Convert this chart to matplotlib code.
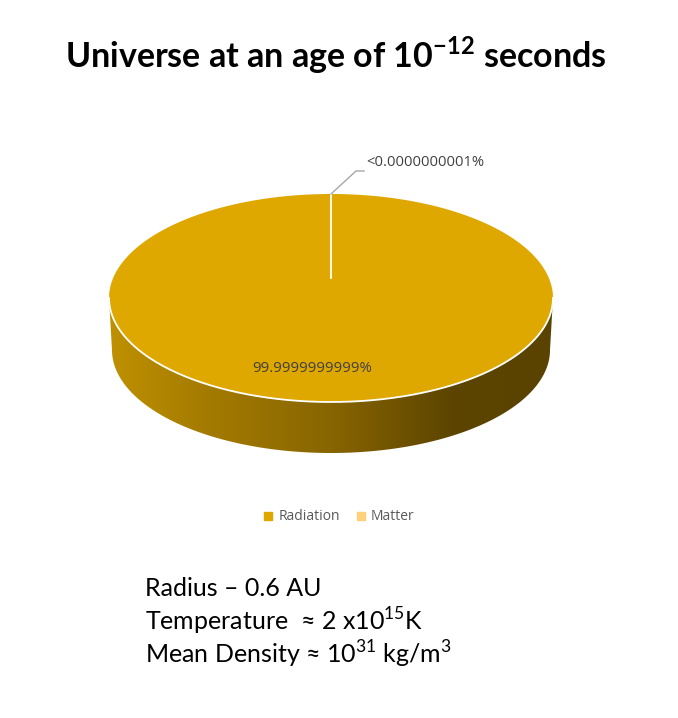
import numpy as np
import matplotlib.pyplot as plt
from matplotlib.colors import LinearSegmentedColormap
from matplotlib.lines import Line2D
from matplotlib.patches import Polygon

plt.rcParams['mathtext.fontset'] = 'custom'
plt.rcParams['mathtext.rm'] = 'Lato'
plt.rcParams['mathtext.bf'] = 'Lato:bold'

# =====================================================
# DATA
# =====================================================

labels = ["Radiation", "Matter"]
shares = [99.9999999999, 0.0000000001]
slice_labels = ["99.9999999999%", "<0.0000000001%"]
colors = ["#DFA800", "#FFD07A"]

facts = [
    "Radius \u2013 0.6 AU",
    "Temperature  \u2248 2 x10$^{15}$K",
    "Mean Density \u2248 10$^{31}$ kg/m$^3$",
]

# =====================================================
# PIE GEOMETRY (pixel space)
# =====================================================

cx, cy = 331, 298          # top ellipse centre
a, b = 222, 104            # top ellipse radii
pc_y = 278                 # apparent pie centre (perspective)
depth = 52
a_bot, b_bot = 219, 103

fig = plt.figure(figsize=(6.78, 7.18), dpi=100)
ax = fig.add_axes([0, 0, 1, 1])
ax.set_xlim(0, 678)
ax.set_ylim(718, 0)
ax.axis("off")


def ell(t, ca, cb, yc):
    return cx + ca * np.cos(t), yc + cb * np.sin(t)


# side wall with horizontal gradient
t = np.linspace(0, np.pi, 200)
tx, ty = ell(t, a, b, cy)
bx, by = ell(t[::-1], a_bot, b_bot, cy + depth)
side = Polygon(np.column_stack([np.r_[tx, bx], np.r_[ty, by]]),
               closed=True, facecolor="none", edgecolor="none")
ax.add_patch(side)
side_cmap = LinearSegmentedColormap.from_list(
    "side",
    [(0.0, "#BF9000"), (0.22, "#A47B00"), (0.5, "#876500"),
     (0.78, "#5C4400"), (1.0, "#5A4200")])
grad = np.linspace(0, 1, 256).reshape(1, -1)
im = ax.imshow(grad, cmap=side_cmap, aspect="auto",
               extent=[cx - a, cx + a, cy + depth + b_bot + 2, cy - 2],
               zorder=1)
im.set_clip_path(side)

# top face wedges, clockwise from 12 o'clock
total = sum(shares)
start = -np.pi / 2
order = [1, 0]
for i in order:
    sweep = 2 * np.pi * shares[i] / total
    tt = np.linspace(start, start + sweep, max(3, int(400 * sweep / np.pi)))
    ex, ey = ell(tt, a, b, cy)
    ax.add_patch(Polygon(np.column_stack([np.r_[cx, ex], np.r_[pc_y, ey]]),
                         closed=True, facecolor=colors[i],
                         edgecolor="none", zorder=2))
    start += sweep

# white rim on front edge and slice edge
ax.plot(tx, ty, color="white", lw=1.3, zorder=3)
ax.plot([cx, cx], [pc_y, cy - b], color="white", lw=1.3, zorder=3)

# labels
ax.text(312, 368, slice_labels[0], ha="center", va="center",
        fontsize=10.8, color="#404040", family="Open Sans", zorder=4)
ax.plot([cx, 356, 364], [cy - b, 171, 171], color="#A6A6A6", lw=1, zorder=4)
ax.text(366, 163, slice_labels[1], ha="left", va="center",
        fontsize=10.6, color="#404040", family="Open Sans", zorder=4)

# legend
handles = [Line2D([], [], marker="s", linestyle="none", color=c, markersize=5.5)
           for c in colors]
ax.legend(handles, labels, loc="center", bbox_to_anchor=(337 / 678, 1 - 517 / 718),
          ncol=2, frameon=False, handletextpad=0.1, handlelength=1.2,
          columnspacing=0.9,
          prop={"family": "Open Sans", "size": 10}, labelcolor="#595959")

# title
ax.text(336, 55, r"Universe at an age of 10$^{\mathbf{-12}}$ seconds",
        ha="center", va="center", fontsize=24.5, fontweight="bold",
        family=["Lato", "DejaVu Sans"])

# facts
for k, line in enumerate(facts):
    ax.text(145, 588 + 33 * k, line, ha="left", va="center", fontsize=18,
            family=["Lato", "DejaVu Sans"])

fig.savefig("out.png", dpi=100)
